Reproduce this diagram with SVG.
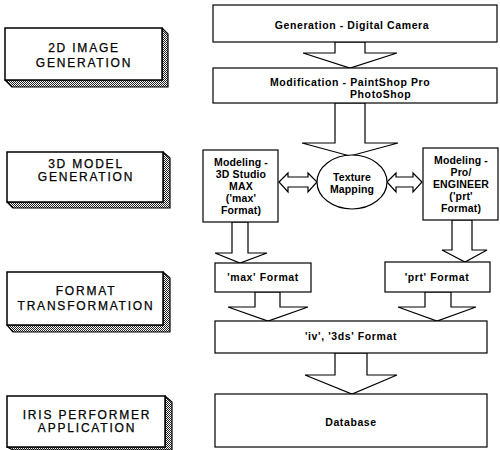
<svg xmlns="http://www.w3.org/2000/svg" width="500" height="450" viewBox="0 0 500 450">
<defs>
<pattern id="stip" width="2" height="2" patternUnits="userSpaceOnUse">
<rect width="2" height="2" fill="#fff"/>
<rect x="0" y="0" width="1" height="1" fill="#222"/>
<rect x="1" y="1" width="1" height="1" fill="#222"/>
</pattern>
</defs>
<style>
.stage{fill:#fff;stroke:#000;stroke-width:1.5}
.shade{fill:url(#stip);stroke:#000;stroke-width:1.2;stroke-linejoin:round}
.box{fill:#fff;stroke:#000;stroke-width:1.2}
.arr{fill:#fff;stroke:#000;stroke-width:1.2;stroke-linejoin:miter}
.lt{font-family:"Liberation Sans",Arial,sans-serif;font-size:12px;letter-spacing:1.8px;text-anchor:middle;fill:#000;stroke:#000;stroke-width:0.25}
.rt{font-family:"Liberation Sans",Arial,sans-serif;font-size:10.5px;font-weight:bold;letter-spacing:0.6px;fill:#000}
.m{letter-spacing:0.15px}
.c{text-anchor:middle}
</style>
<rect width="500" height="450" fill="#fff"/>

<g id="stage-2d">
<polygon class="shade" points="162,28 168,34 168,87 12,87 5,80 162,80"/>
<rect class="stage" x="5" y="28" width="157" height="52"/>
<text class="lt" x="84" y="52">2D IMAGE</text>
<text class="lt" x="84" y="67">GENERATION</text>
</g>
<g id="stage-3d">
<polygon class="shade" points="163,152 170,158 170,208 13,208 7,202 163,202"/>
<rect class="stage" x="7" y="152" width="156" height="50"/>
<text class="lt" x="86" y="168">3D MODEL</text>
<text class="lt" x="86" y="181">GENERATION</text>
</g>
<g id="stage-format">
<polygon class="shade" points="163,272 170,278 170,332 13,332 7,325 163,325"/>
<rect class="stage" x="7" y="272" width="156" height="53"/>
<text class="lt" x="86" y="295">FORMAT</text>
<text class="lt" x="86" y="310">TRANSFORMATION</text>
</g>
<g id="stage-iris">
<polygon class="shade" points="165,396 172,402 172,450 13,450 7,447 165,447"/>
<rect class="stage" x="7" y="396" width="158" height="51"/>
<text class="lt" x="87" y="419">IRIS PERFORMER</text>
<text class="lt" x="87" y="432">APPLICATION</text>
</g>

<g id="connectors">
<polygon class="arr" points="335,42 335,53 303,53 350,68 397,53 365,53 365,42"/>
<polygon class="arr" points="335,103 335,143 302,143 350,156 398,143 365,143 365,103"/>
<polygon class="arr" points="279,182 288,173 288,177 308,177 308,173 317,182 308,192 308,187 288,187 288,192"/>
<polygon class="arr" points="387,182 396,173 396,177 413,177 413,173 422,182 413,192 413,187 396,187 396,192"/>
<polygon class="arr" points="232,222 232,253 215,253 240,263 267,253 248,253 248,222"/>
<polygon class="arr" points="452,220 452,250 442,250 465,262 487,250 472,250 472,220"/>
<polygon class="arr" points="255,292 255,307 228,307 268,321 308,307 280,307 280,292"/>
<polygon class="arr" points="425,292 425,307 398,307 437,321 476,307 451,307 451,292"/>
<polygon class="arr" points="335,353 335,375 305,375 352,394 397,375 367,375 367,353"/>
</g>

<g id="n-camera">
<rect class="box" x="213" y="5" width="284" height="37"/>
<text class="rt c" x="352" y="29">Generation - Digital Camera</text>
</g>
<g id="n-modification">
<rect class="box" x="213" y="68" width="284" height="35"/>
<text class="rt" x="270" y="86">Modification - PaintShop Pro</text>
<text class="rt" x="350" y="98">PhotoShop</text>
</g>
<g id="n-3dsmax">
<rect class="box" x="203" y="150" width="75" height="72"/>
<text class="rt m c" x="241" y="166">Modeling -</text>
<text class="rt m c" x="241" y="178">3D Studio</text>
<text class="rt m c" x="241" y="190">MAX</text>
<text class="rt m c" x="241" y="202">('max'</text>
<text class="rt m c" x="241" y="214">Format)</text>
</g>
<g id="n-texture">
<ellipse class="box" cx="352" cy="182" rx="35" ry="27"/>
<text class="rt m c" x="352" y="181">Texture</text>
<text class="rt m c" x="352" y="193">Mapping</text>
</g>
<g id="n-proe">
<rect class="box" x="423" y="148" width="75" height="72"/>
<text class="rt m c" x="461" y="164">Modeling -</text>
<text class="rt m c" x="461" y="176">Pro/</text>
<text class="rt m c" x="461" y="188">ENGINEER</text>
<text class="rt m c" x="461" y="200">('prt'</text>
<text class="rt m c" x="461" y="212">Format)</text>
</g>
<g id="n-max">
<rect class="box" x="215" y="263" width="96" height="29"/>
<text class="rt c" x="263" y="281">'max' Format</text>
</g>
<g id="n-prt">
<rect class="box" x="385" y="262" width="105" height="30"/>
<text class="rt c" x="437" y="281">'prt' Format</text>
</g>
<g id="n-iv">
<rect class="box" x="215" y="321" width="272" height="32"/>
<text class="rt c" x="351" y="340">'iv', '3ds' Format</text>
</g>
<g id="n-database">
<rect class="box" x="215" y="394" width="272" height="53"/>
<text class="rt c" x="351" y="426">Database</text>
</g>
</svg>
